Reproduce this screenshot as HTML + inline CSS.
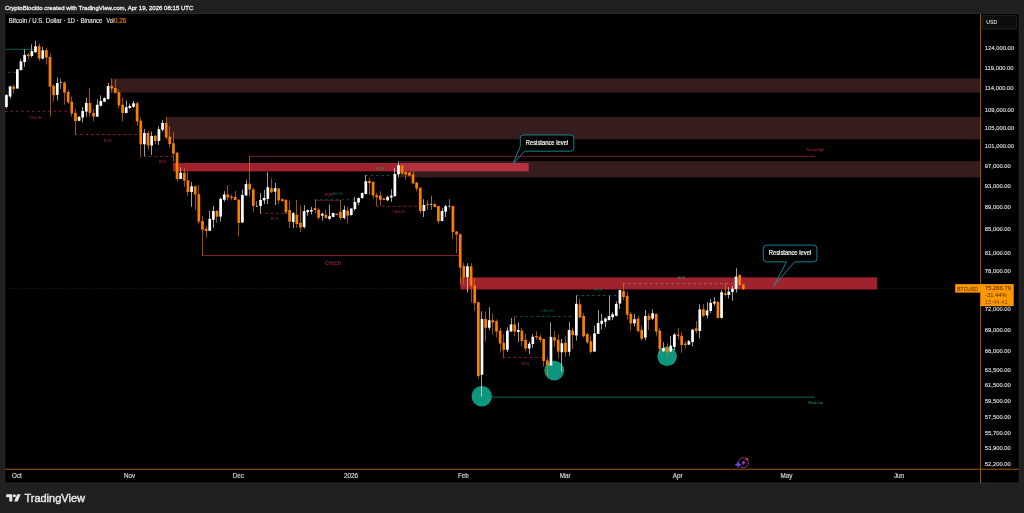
<!DOCTYPE html>
<html lang="en"><head><meta charset="utf-8"><title>BTCUSD chart</title>
<style>html,body{margin:0;padding:0;background:#202020;overflow:hidden}svg{display:block}text{font-family:"Liberation Sans",sans-serif}</style>
</head><body>
<svg width="1024" height="513" viewBox="0 0 1024 513">
<rect x="0" y="0" width="1024" height="513" fill="#202020"/>
<rect x="4.7" y="13.4" width="1014.6" height="469.6" rx="1.2" fill="#000" stroke="#2b2b2b" stroke-width="1"/>
<text x="4.9" y="10" font-size="6.1" fill="#ececec" stroke="#ececec" stroke-width="0.3" textLength="188.5" lengthAdjust="spacingAndGlyphs">CryptoBlockto created with TradingView.com, Apr 19, 2026 08:15 UTC</text>
<g>
<rect x="111" y="78.5" width="869" height="14" fill="#371c1e"/>
<rect x="166.2" y="117" width="813.8" height="22.3" fill="#371c1e"/>
<rect x="399.8" y="161.2" width="580.2" height="16.2" fill="#371c1e"/>
<rect x="173.1" y="163" width="226.7" height="8.4" fill="#a0222d"/>
<rect x="399.8" y="163" width="128.9" height="8.4" fill="#b3323e"/>
<rect x="460.4" y="277.4" width="416.8" height="12.1" fill="#a0222d"/>
</g>
<line x1="5" y1="288.4" x2="460" y2="288.4" stroke="#2c1b06" stroke-width="0.8" stroke-dasharray="1.2,1.2"/>
<line x1="877.2" y1="288.4" x2="955" y2="288.4" stroke="#2c1b06" stroke-width="0.8" stroke-dasharray="1.2,1.2"/>
<line x1="5.0" y1="49.3" x2="33.8" y2="49.3" stroke="#0b6f60" stroke-width="0.8"/>
<line x1="8.0" y1="72.3" x2="16.0" y2="72.3" stroke="#0b6f60" stroke-width="0.8" stroke-dasharray="2.4,3"/>
<line x1="5.0" y1="111.3" x2="69.0" y2="111.3" stroke="#b3263c" stroke-width="0.8" stroke-dasharray="2.4,3"/>
<text x="35.2" y="118.8" font-size="3.6" fill="#b3263c" text-anchor="middle">CHoCH</text>
<line x1="75.0" y1="134.5" x2="138.8" y2="134.5" stroke="#b3263c" stroke-width="0.8" stroke-dasharray="2.4,3"/>
<text x="107.9" y="141.7" font-size="3.6" fill="#b3263c" text-anchor="middle">BOS</text>
<line x1="143.8" y1="156.4" x2="173.8" y2="156.4" stroke="#b3263c" stroke-width="0.8" stroke-dasharray="2.4,3"/>
<text x="162.5" y="163.4" font-size="3.6" fill="#b3263c" text-anchor="middle">BOS</text>
<line x1="249.1" y1="156.3" x2="815.0" y2="156.3" stroke="#8f2230" stroke-width="0.8"/>
<text x="815.5" y="151.2" font-size="3.3" fill="#c8283c" text-anchor="middle">Strong High</text>
<line x1="202.2" y1="255.5" x2="459.2" y2="255.5" stroke="#8f2230" stroke-width="0.9"/>
<text x="333.2" y="264.6" font-size="4.6" fill="#c42a40" text-anchor="middle">CHoCH</text>
<line x1="259.8" y1="213.3" x2="288.0" y2="213.3" stroke="#b3263c" stroke-width="0.8" stroke-dasharray="2.4,3"/>
<text x="274.8" y="220.0" font-size="3.6" fill="#b3263c" text-anchor="middle">BOS</text>
<line x1="314.5" y1="200.5" x2="340.0" y2="200.5" stroke="#7a2030" stroke-width="0.6"/>
<line x1="314.5" y1="199.7" x2="354.1" y2="199.7" stroke="#0b6f60" stroke-width="0.8" stroke-dasharray="2.4,3"/>
<text x="336.5" y="194.8" font-size="3.6" fill="#0b6f60" text-anchor="middle">CHoCH</text>
<text x="328.7" y="196.0" font-size="3.6" fill="#b3263c" text-anchor="middle">EQH</text>
<line x1="365.4" y1="175.6" x2="390.4" y2="175.6" stroke="#0b6f60" stroke-width="0.8" stroke-dasharray="2.4,3"/>
<text x="380.0" y="170.4" font-size="3.6" fill="#3a8f88" text-anchor="middle">BOS</text>
<line x1="376.6" y1="206.3" x2="418.0" y2="206.3" stroke="#b3263c" stroke-width="0.8" stroke-dasharray="2.4,3"/>
<text x="398.3" y="212.8" font-size="3.6" fill="#b3263c" text-anchor="middle">CHoCH</text>
<line x1="514.9" y1="316.6" x2="572.4" y2="316.6" stroke="#0b6f60" stroke-width="0.8" stroke-dasharray="2.4,3"/>
<text x="547.4" y="311.5" font-size="3.6" fill="#0b6f60" text-anchor="middle">CHoCH</text>
<line x1="503.0" y1="357.5" x2="542.4" y2="357.5" stroke="#b3263c" stroke-width="0.8" stroke-dasharray="2.4,3"/>
<text x="525.5" y="364.5" font-size="3.6" fill="#b3263c" text-anchor="middle">BOS</text>
<line x1="576.1" y1="295.5" x2="617.4" y2="295.5" stroke="#0b6f60" stroke-width="0.8" stroke-dasharray="2.4,3"/>
<text x="598.0" y="290.5" font-size="3.6" fill="#0b6f60" text-anchor="middle">BOS</text>
<line x1="623.0" y1="283.6" x2="734.4" y2="283.6" stroke="#6f8c8b" stroke-width="0.8" stroke-dasharray="2.4,3"/>
<text x="681.2" y="278.5" font-size="3.6" fill="#3a8f88" text-anchor="middle">BOS</text>
<line x1="492.0" y1="397.2" x2="815.0" y2="397.2" stroke="#0b6f60" stroke-width="0.9"/>
<text x="815.6" y="403.9" font-size="3.3" fill="#12a08a" text-anchor="middle">Weak Low</text>
<circle cx="481.75" cy="396.20" r="10.2" fill="#0e977e"/>
<circle cx="554.25" cy="370.60" r="9.9" fill="#0e977e"/>
<circle cx="667.10" cy="356.20" r="9.8" fill="#0e977e"/>
<g shape-rendering="auto">
<rect x="6" y="94.00" width="1" height="14.50" fill="#e2e2e2" fill-opacity="0.7"/>
<rect x="5.10" y="95.00" width="2.70" height="12.00" fill="#ffffff"/>
<rect x="10" y="86.00" width="1" height="12.50" fill="#e2e2e2" fill-opacity="0.7"/>
<rect x="8.73" y="86.40" width="2.70" height="10.10" fill="#ffffff"/>
<rect x="13" y="84.50" width="1" height="8.80" fill="#e07200" fill-opacity="0.7"/>
<rect x="12.36" y="86.60" width="2.70" height="2.30" fill="#fa7f00"/>
<rect x="17" y="69.00" width="1" height="19.80" fill="#e2e2e2" fill-opacity="0.7"/>
<rect x="15.99" y="69.30" width="2.70" height="19.20" fill="#ffffff"/>
<rect x="20" y="59.30" width="1" height="11.20" fill="#e2e2e2" fill-opacity="0.7"/>
<rect x="19.62" y="61.40" width="2.70" height="8.70" fill="#ffffff"/>
<rect x="24" y="49.30" width="1" height="17.50" fill="#e2e2e2" fill-opacity="0.7"/>
<rect x="23.25" y="54.90" width="2.70" height="7.10" fill="#ffffff"/>
<rect x="28" y="53.00" width="1" height="6.50" fill="#e07200" fill-opacity="0.7"/>
<rect x="26.88" y="54.50" width="2.70" height="1.60" fill="#fa7f00"/>
<rect x="31" y="44.30" width="1" height="13.10" fill="#e2e2e2" fill-opacity="0.7"/>
<rect x="30.51" y="51.10" width="2.70" height="4.90" fill="#ffffff"/>
<rect x="35" y="40.80" width="1" height="11.80" fill="#e2e2e2" fill-opacity="0.7"/>
<rect x="34.14" y="46.40" width="2.70" height="5.90" fill="#ffffff"/>
<rect x="39" y="43.50" width="1" height="17.30" fill="#e07200" fill-opacity="0.7"/>
<rect x="37.77" y="46.10" width="2.70" height="12.50" fill="#fa7f00"/>
<rect x="42" y="47.00" width="1" height="12.30" fill="#e2e2e2" fill-opacity="0.7"/>
<rect x="41.40" y="50.40" width="2.70" height="8.20" fill="#ffffff"/>
<rect x="46" y="48.30" width="1" height="16.20" fill="#e07200" fill-opacity="0.7"/>
<rect x="45.03" y="50.10" width="2.70" height="7.50" fill="#fa7f00"/>
<rect x="50" y="53.50" width="1" height="63.10" fill="#e07200" fill-opacity="0.7"/>
<rect x="48.66" y="57.00" width="2.70" height="29.60" fill="#fa7f00"/>
<rect x="53" y="84.75" width="1" height="16.85" fill="#e07200" fill-opacity="0.7"/>
<rect x="52.29" y="85.80" width="2.70" height="9.30" fill="#fa7f00"/>
<rect x="57" y="77.30" width="1" height="23.10" fill="#e2e2e2" fill-opacity="0.7"/>
<rect x="55.92" y="83.00" width="2.70" height="11.90" fill="#ffffff"/>
<rect x="60" y="78.30" width="1" height="10.60" fill="#a0a0a0" fill-opacity="0.7"/>
<rect x="59.80" y="82.00" width="2.20" height="1.00" fill="#b8b8b8"/>
<rect x="64" y="81.40" width="1" height="23.35" fill="#e07200" fill-opacity="0.7"/>
<rect x="63.18" y="82.60" width="2.70" height="10.00" fill="#fa7f00"/>
<rect x="68" y="89.50" width="1" height="14.50" fill="#e07200" fill-opacity="0.7"/>
<rect x="66.81" y="92.00" width="2.70" height="10.25" fill="#fa7f00"/>
<rect x="71" y="96.60" width="1" height="20.00" fill="#e07200" fill-opacity="0.7"/>
<rect x="70.44" y="101.60" width="2.70" height="11.90" fill="#fa7f00"/>
<rect x="75" y="108.50" width="1" height="26.00" fill="#e07200" fill-opacity="0.7"/>
<rect x="74.07" y="112.90" width="2.70" height="8.10" fill="#fa7f00"/>
<rect x="79" y="116.00" width="1" height="5.00" fill="#e2e2e2" fill-opacity="0.7"/>
<rect x="77.70" y="117.00" width="2.70" height="3.75" fill="#ffffff"/>
<rect x="82" y="107.00" width="1" height="15.50" fill="#e2e2e2" fill-opacity="0.7"/>
<rect x="81.33" y="111.00" width="2.70" height="6.50" fill="#ffffff"/>
<rect x="86" y="97.90" width="1" height="18.70" fill="#e2e2e2" fill-opacity="0.7"/>
<rect x="84.96" y="102.90" width="2.70" height="8.70" fill="#ffffff"/>
<rect x="89" y="88.00" width="1" height="28.60" fill="#e07200" fill-opacity="0.7"/>
<rect x="88.59" y="102.90" width="2.70" height="10.00" fill="#fa7f00"/>
<rect x="93" y="109.00" width="1" height="12.00" fill="#e07200" fill-opacity="0.7"/>
<rect x="92.22" y="112.90" width="2.70" height="3.70" fill="#fa7f00"/>
<rect x="97" y="99.50" width="1" height="17.30" fill="#e2e2e2" fill-opacity="0.7"/>
<rect x="95.85" y="104.75" width="2.70" height="11.85" fill="#ffffff"/>
<rect x="100" y="95.50" width="1" height="11.10" fill="#e2e2e2" fill-opacity="0.7"/>
<rect x="99.48" y="101.00" width="2.70" height="4.75" fill="#ffffff"/>
<rect x="104" y="97.25" width="1" height="5.00" fill="#e2e2e2" fill-opacity="0.7"/>
<rect x="103.11" y="98.25" width="2.70" height="3.35" fill="#ffffff"/>
<rect x="108" y="83.00" width="1" height="16.40" fill="#e2e2e2" fill-opacity="0.7"/>
<rect x="106.74" y="86.00" width="2.70" height="13.10" fill="#ffffff"/>
<rect x="111" y="78.50" width="1" height="14.10" fill="#e07200" fill-opacity="0.7"/>
<rect x="110.37" y="85.80" width="2.70" height="2.70" fill="#fa7f00"/>
<rect x="115" y="79.25" width="1" height="14.00" fill="#e07200" fill-opacity="0.7"/>
<rect x="114.00" y="88.00" width="2.70" height="4.90" fill="#fa7f00"/>
<rect x="118" y="89.50" width="1" height="19.00" fill="#e07200" fill-opacity="0.7"/>
<rect x="117.63" y="92.25" width="2.70" height="13.15" fill="#fa7f00"/>
<rect x="122" y="97.60" width="1" height="23.90" fill="#e07200" fill-opacity="0.7"/>
<rect x="121.26" y="104.75" width="2.70" height="8.25" fill="#fa7f00"/>
<rect x="126" y="100.50" width="1" height="12.70" fill="#e2e2e2" fill-opacity="0.7"/>
<rect x="124.89" y="107.20" width="2.70" height="5.80" fill="#ffffff"/>
<rect x="129" y="103.50" width="1" height="5.40" fill="#e2e2e2" fill-opacity="0.7"/>
<rect x="128.52" y="106.00" width="2.70" height="2.00" fill="#ffffff"/>
<rect x="133" y="101.00" width="1" height="7.00" fill="#e2e2e2" fill-opacity="0.7"/>
<rect x="132.15" y="103.25" width="2.70" height="3.50" fill="#ffffff"/>
<rect x="137" y="102.00" width="1" height="23.75" fill="#e07200" fill-opacity="0.7"/>
<rect x="135.78" y="103.25" width="2.70" height="18.15" fill="#fa7f00"/>
<rect x="140" y="117.60" width="1" height="39.80" fill="#e07200" fill-opacity="0.7"/>
<rect x="139.41" y="120.75" width="2.70" height="23.50" fill="#fa7f00"/>
<rect x="144" y="129.25" width="1" height="26.85" fill="#e2e2e2" fill-opacity="0.7"/>
<rect x="143.04" y="133.00" width="2.70" height="11.25" fill="#ffffff"/>
<rect x="148" y="131.00" width="1" height="19.00" fill="#e07200" fill-opacity="0.7"/>
<rect x="146.67" y="133.00" width="2.70" height="12.50" fill="#fa7f00"/>
<rect x="151" y="131.75" width="1" height="23.15" fill="#e2e2e2" fill-opacity="0.7"/>
<rect x="150.30" y="136.00" width="2.70" height="9.50" fill="#ffffff"/>
<rect x="155" y="135.25" width="1" height="9.00" fill="#e07200" fill-opacity="0.7"/>
<rect x="153.93" y="135.75" width="2.70" height="5.25" fill="#fa7f00"/>
<rect x="158" y="126.40" width="1" height="18.50" fill="#e2e2e2" fill-opacity="0.7"/>
<rect x="157.56" y="129.25" width="2.70" height="11.65" fill="#ffffff"/>
<rect x="162" y="120.00" width="1" height="11.40" fill="#e2e2e2" fill-opacity="0.7"/>
<rect x="161.19" y="123.00" width="2.70" height="6.75" fill="#ffffff"/>
<rect x="166" y="117.00" width="1" height="22.25" fill="#e07200" fill-opacity="0.7"/>
<rect x="164.82" y="123.00" width="2.70" height="14.40" fill="#fa7f00"/>
<rect x="169" y="126.00" width="1" height="21.40" fill="#e07200" fill-opacity="0.7"/>
<rect x="168.45" y="136.75" width="2.70" height="7.25" fill="#fa7f00"/>
<rect x="173" y="131.75" width="1" height="30.00" fill="#e07200" fill-opacity="0.7"/>
<rect x="172.08" y="143.25" width="2.70" height="10.35" fill="#fa7f00"/>
<rect x="177" y="151.75" width="1" height="29.75" fill="#e07200" fill-opacity="0.7"/>
<rect x="175.71" y="152.75" width="2.70" height="26.25" fill="#fa7f00"/>
<rect x="180" y="167.40" width="1" height="11.85" fill="#e2e2e2" fill-opacity="0.7"/>
<rect x="179.34" y="172.75" width="2.70" height="6.15" fill="#ffffff"/>
<rect x="184" y="168.00" width="1" height="18.70" fill="#e07200" fill-opacity="0.7"/>
<rect x="182.97" y="172.75" width="2.70" height="8.00" fill="#fa7f00"/>
<rect x="187" y="171.50" width="1" height="24.25" fill="#e07200" fill-opacity="0.7"/>
<rect x="186.60" y="180.30" width="2.70" height="11.70" fill="#fa7f00"/>
<rect x="191" y="182.00" width="1" height="24.60" fill="#e2e2e2" fill-opacity="0.7"/>
<rect x="190.23" y="186.30" width="2.70" height="5.70" fill="#ffffff"/>
<rect x="195" y="185.50" width="1" height="24.25" fill="#e07200" fill-opacity="0.7"/>
<rect x="193.86" y="186.30" width="2.70" height="8.20" fill="#fa7f00"/>
<rect x="198" y="185.40" width="1" height="38.10" fill="#e07200" fill-opacity="0.7"/>
<rect x="197.49" y="194.10" width="2.70" height="27.50" fill="#fa7f00"/>
<rect x="202" y="216.00" width="1" height="39.75" fill="#e07200" fill-opacity="0.7"/>
<rect x="201.12" y="221.00" width="2.70" height="8.75" fill="#fa7f00"/>
<rect x="206" y="226.00" width="1" height="11.50" fill="#e07200" fill-opacity="0.7"/>
<rect x="204.75" y="228.75" width="2.70" height="2.25" fill="#fa7f00"/>
<rect x="209" y="211.00" width="1" height="20.00" fill="#e2e2e2" fill-opacity="0.7"/>
<rect x="208.38" y="218.75" width="2.70" height="12.00" fill="#ffffff"/>
<rect x="213" y="206.00" width="1" height="21.90" fill="#e2e2e2" fill-opacity="0.7"/>
<rect x="212.01" y="211.00" width="2.70" height="8.75" fill="#ffffff"/>
<rect x="216" y="210.00" width="1" height="12.90" fill="#e07200" fill-opacity="0.7"/>
<rect x="215.64" y="211.00" width="2.70" height="5.60" fill="#fa7f00"/>
<rect x="220" y="197.90" width="1" height="23.70" fill="#e2e2e2" fill-opacity="0.7"/>
<rect x="219.27" y="198.90" width="2.70" height="17.70" fill="#ffffff"/>
<rect x="224" y="191.25" width="1" height="10.35" fill="#e2e2e2" fill-opacity="0.7"/>
<rect x="222.90" y="194.50" width="2.70" height="5.25" fill="#ffffff"/>
<rect x="227" y="185.40" width="1" height="15.00" fill="#e07200" fill-opacity="0.7"/>
<rect x="226.53" y="194.50" width="2.70" height="3.00" fill="#fa7f00"/>
<rect x="231" y="194.75" width="1" height="5.65" fill="#e07200" fill-opacity="0.7"/>
<rect x="230.16" y="196.60" width="2.70" height="1.30" fill="#fa7f00"/>
<rect x="235" y="191.00" width="1" height="9.40" fill="#e07200" fill-opacity="0.7"/>
<rect x="233.79" y="197.00" width="2.70" height="3.00" fill="#fa7f00"/>
<rect x="238" y="199.00" width="1" height="37.60" fill="#e07200" fill-opacity="0.7"/>
<rect x="237.42" y="199.75" width="2.70" height="23.15" fill="#fa7f00"/>
<rect x="242" y="189.50" width="1" height="33.40" fill="#e2e2e2" fill-opacity="0.7"/>
<rect x="241.05" y="195.00" width="2.70" height="27.50" fill="#ffffff"/>
<rect x="246" y="179.75" width="1" height="16.25" fill="#e2e2e2" fill-opacity="0.7"/>
<rect x="244.68" y="184.10" width="2.70" height="11.30" fill="#ffffff"/>
<rect x="249" y="156.25" width="1" height="40.35" fill="#e07200" fill-opacity="0.7"/>
<rect x="248.31" y="183.75" width="2.70" height="5.75" fill="#fa7f00"/>
<rect x="253" y="187.90" width="1" height="23.70" fill="#e07200" fill-opacity="0.7"/>
<rect x="251.94" y="189.50" width="2.70" height="16.50" fill="#fa7f00"/>
<rect x="256" y="201.00" width="1" height="5.60" fill="#a0a0a0" fill-opacity="0.7"/>
<rect x="255.82" y="205.80" width="2.20" height="1.00" fill="#b8b8b8"/>
<rect x="260" y="193.25" width="1" height="20.00" fill="#e2e2e2" fill-opacity="0.7"/>
<rect x="259.20" y="200.00" width="2.70" height="6.00" fill="#ffffff"/>
<rect x="264" y="190.00" width="1" height="14.10" fill="#e2e2e2" fill-opacity="0.7"/>
<rect x="262.83" y="197.90" width="2.70" height="2.50" fill="#ffffff"/>
<rect x="267" y="172.10" width="1" height="32.00" fill="#e2e2e2" fill-opacity="0.7"/>
<rect x="266.46" y="187.25" width="2.70" height="11.65" fill="#ffffff"/>
<rect x="271" y="178.40" width="1" height="14.50" fill="#e07200" fill-opacity="0.7"/>
<rect x="270.09" y="188.25" width="2.70" height="4.00" fill="#fa7f00"/>
<rect x="275" y="182.90" width="1" height="22.10" fill="#e2e2e2" fill-opacity="0.7"/>
<rect x="273.72" y="188.25" width="2.70" height="3.35" fill="#ffffff"/>
<rect x="278" y="187.90" width="1" height="16.20" fill="#e07200" fill-opacity="0.7"/>
<rect x="277.35" y="188.50" width="2.70" height="11.90" fill="#fa7f00"/>
<rect x="282" y="198.50" width="1" height="3.10" fill="#e07200" fill-opacity="0.7"/>
<rect x="280.98" y="199.10" width="2.70" height="1.90" fill="#fa7f00"/>
<rect x="285" y="199.10" width="1" height="14.65" fill="#e07200" fill-opacity="0.7"/>
<rect x="284.61" y="200.00" width="2.70" height="12.25" fill="#fa7f00"/>
<rect x="289" y="201.00" width="1" height="26.90" fill="#e07200" fill-opacity="0.7"/>
<rect x="288.24" y="210.00" width="2.70" height="11.60" fill="#fa7f00"/>
<rect x="293" y="212.00" width="1" height="15.90" fill="#e2e2e2" fill-opacity="0.7"/>
<rect x="291.87" y="213.25" width="2.70" height="8.75" fill="#ffffff"/>
<rect x="296" y="199.75" width="1" height="27.95" fill="#e07200" fill-opacity="0.7"/>
<rect x="295.50" y="214.75" width="2.70" height="9.25" fill="#fa7f00"/>
<rect x="300" y="205.80" width="1" height="26.20" fill="#e07200" fill-opacity="0.7"/>
<rect x="299.13" y="222.80" width="2.70" height="4.70" fill="#fa7f00"/>
<rect x="304" y="205.30" width="1" height="23.20" fill="#e2e2e2" fill-opacity="0.7"/>
<rect x="302.76" y="211.20" width="2.70" height="15.80" fill="#ffffff"/>
<rect x="307" y="209.40" width="1" height="6.20" fill="#e2e2e2" fill-opacity="0.7"/>
<rect x="306.39" y="210.25" width="2.70" height="2.00" fill="#ffffff"/>
<rect x="311" y="206.90" width="1" height="7.50" fill="#e2e2e2" fill-opacity="0.7"/>
<rect x="310.02" y="210.00" width="2.70" height="1.50" fill="#ffffff"/>
<rect x="315" y="199.75" width="1" height="13.25" fill="#e07200" fill-opacity="0.7"/>
<rect x="313.65" y="208.00" width="2.70" height="2.00" fill="#fa7f00"/>
<rect x="318" y="207.75" width="1" height="12.00" fill="#e07200" fill-opacity="0.7"/>
<rect x="317.28" y="209.75" width="2.70" height="8.00" fill="#fa7f00"/>
<rect x="322" y="212.50" width="1" height="8.10" fill="#e2e2e2" fill-opacity="0.7"/>
<rect x="320.91" y="213.75" width="2.70" height="1.85" fill="#ffffff"/>
<rect x="325" y="209.75" width="1" height="8.75" fill="#e07200" fill-opacity="0.7"/>
<rect x="324.54" y="214.75" width="2.70" height="3.25" fill="#fa7f00"/>
<rect x="329" y="204.75" width="1" height="15.25" fill="#e2e2e2" fill-opacity="0.7"/>
<rect x="328.17" y="216.25" width="2.70" height="2.50" fill="#ffffff"/>
<rect x="333" y="212.75" width="1" height="4.50" fill="#e2e2e2" fill-opacity="0.7"/>
<rect x="331.80" y="213.00" width="2.70" height="3.90" fill="#ffffff"/>
<rect x="336" y="213.50" width="1" height="1.75" fill="#e07200" fill-opacity="0.7"/>
<rect x="335.43" y="213.75" width="2.70" height="1.25" fill="#fa7f00"/>
<rect x="340" y="200.00" width="1" height="20.00" fill="#e07200" fill-opacity="0.7"/>
<rect x="339.06" y="211.90" width="2.70" height="6.10" fill="#fa7f00"/>
<rect x="344" y="205.60" width="1" height="13.80" fill="#e2e2e2" fill-opacity="0.7"/>
<rect x="342.69" y="209.75" width="2.70" height="8.25" fill="#ffffff"/>
<rect x="347" y="206.90" width="1" height="16.60" fill="#e07200" fill-opacity="0.7"/>
<rect x="346.32" y="210.60" width="2.70" height="5.00" fill="#fa7f00"/>
<rect x="351" y="208.10" width="1" height="7.50" fill="#e2e2e2" fill-opacity="0.7"/>
<rect x="349.95" y="208.50" width="2.70" height="6.50" fill="#ffffff"/>
<rect x="354" y="196.90" width="1" height="13.70" fill="#e2e2e2" fill-opacity="0.7"/>
<rect x="353.58" y="201.90" width="2.70" height="7.10" fill="#ffffff"/>
<rect x="358" y="197.50" width="1" height="7.50" fill="#e2e2e2" fill-opacity="0.7"/>
<rect x="357.21" y="198.10" width="2.70" height="4.40" fill="#ffffff"/>
<rect x="362" y="192.25" width="1" height="6.25" fill="#e2e2e2" fill-opacity="0.7"/>
<rect x="360.84" y="193.10" width="2.70" height="5.00" fill="#ffffff"/>
<rect x="365" y="175.00" width="1" height="19.40" fill="#e2e2e2" fill-opacity="0.7"/>
<rect x="364.47" y="181.25" width="2.70" height="12.75" fill="#ffffff"/>
<rect x="369" y="177.75" width="1" height="17.25" fill="#e07200" fill-opacity="0.7"/>
<rect x="368.10" y="181.00" width="2.70" height="2.10" fill="#fa7f00"/>
<rect x="373" y="181.25" width="1" height="17.50" fill="#e07200" fill-opacity="0.7"/>
<rect x="371.73" y="181.90" width="2.70" height="13.70" fill="#fa7f00"/>
<rect x="376" y="193.10" width="1" height="13.15" fill="#e07200" fill-opacity="0.7"/>
<rect x="375.36" y="195.25" width="2.70" height="2.00" fill="#fa7f00"/>
<rect x="380" y="191.25" width="1" height="14.35" fill="#e07200" fill-opacity="0.7"/>
<rect x="378.99" y="195.60" width="2.70" height="4.15" fill="#fa7f00"/>
<rect x="383" y="198.10" width="1" height="2.15" fill="#e07200" fill-opacity="0.7"/>
<rect x="382.62" y="198.50" width="2.70" height="1.50" fill="#fa7f00"/>
<rect x="387" y="195.60" width="1" height="5.40" fill="#e2e2e2" fill-opacity="0.7"/>
<rect x="386.25" y="196.90" width="2.70" height="3.35" fill="#ffffff"/>
<rect x="391" y="189.40" width="1" height="12.50" fill="#e2e2e2" fill-opacity="0.7"/>
<rect x="389.88" y="195.60" width="2.70" height="1.90" fill="#ffffff"/>
<rect x="394" y="168.10" width="1" height="28.40" fill="#e2e2e2" fill-opacity="0.7"/>
<rect x="393.51" y="174.00" width="2.70" height="22.25" fill="#ffffff"/>
<rect x="398" y="161.25" width="1" height="16.25" fill="#e2e2e2" fill-opacity="0.7"/>
<rect x="397.14" y="165.25" width="2.70" height="9.15" fill="#ffffff"/>
<rect x="402" y="165.00" width="1" height="9.75" fill="#e07200" fill-opacity="0.7"/>
<rect x="400.77" y="165.60" width="2.70" height="7.90" fill="#fa7f00"/>
<rect x="405" y="171.25" width="1" height="8.50" fill="#e07200" fill-opacity="0.7"/>
<rect x="404.40" y="171.90" width="2.70" height="2.50" fill="#fa7f00"/>
<rect x="409" y="171.90" width="1" height="4.10" fill="#e07200" fill-opacity="0.7"/>
<rect x="408.03" y="172.50" width="2.70" height="3.10" fill="#fa7f00"/>
<rect x="413" y="171.00" width="1" height="12.75" fill="#e07200" fill-opacity="0.7"/>
<rect x="411.66" y="174.40" width="2.70" height="9.10" fill="#fa7f00"/>
<rect x="416" y="181.90" width="1" height="9.60" fill="#e07200" fill-opacity="0.7"/>
<rect x="415.29" y="182.50" width="2.70" height="6.10" fill="#fa7f00"/>
<rect x="420" y="186.90" width="1" height="26.70" fill="#e07200" fill-opacity="0.7"/>
<rect x="418.92" y="187.80" width="2.70" height="23.20" fill="#fa7f00"/>
<rect x="423" y="199.20" width="1" height="17.80" fill="#e2e2e2" fill-opacity="0.7"/>
<rect x="422.55" y="205.00" width="2.70" height="6.00" fill="#ffffff"/>
<rect x="427" y="200.40" width="1" height="9.35" fill="#e07200" fill-opacity="0.7"/>
<rect x="426.18" y="204.10" width="2.70" height="1.00" fill="#fa7f00"/>
<rect x="431" y="195.75" width="1" height="14.25" fill="#a0a0a0" fill-opacity="0.7"/>
<rect x="430.06" y="204.10" width="2.20" height="1.00" fill="#b8b8b8"/>
<rect x="434" y="202.90" width="1" height="4.35" fill="#e07200" fill-opacity="0.7"/>
<rect x="433.44" y="204.10" width="2.70" height="2.90" fill="#fa7f00"/>
<rect x="438" y="205.75" width="1" height="18.00" fill="#e07200" fill-opacity="0.7"/>
<rect x="437.07" y="206.00" width="2.70" height="15.25" fill="#fa7f00"/>
<rect x="442" y="208.25" width="1" height="13.00" fill="#e2e2e2" fill-opacity="0.7"/>
<rect x="440.70" y="211.00" width="2.70" height="10.00" fill="#ffffff"/>
<rect x="445" y="205.00" width="1" height="12.00" fill="#e2e2e2" fill-opacity="0.7"/>
<rect x="444.33" y="206.25" width="2.70" height="5.35" fill="#ffffff"/>
<rect x="449" y="199.10" width="1" height="10.00" fill="#a0a0a0" fill-opacity="0.7"/>
<rect x="448.21" y="205.75" width="2.20" height="1.00" fill="#b8b8b8"/>
<rect x="452" y="205.75" width="1" height="33.25" fill="#e07200" fill-opacity="0.7"/>
<rect x="451.59" y="206.00" width="2.70" height="26.00" fill="#fa7f00"/>
<rect x="456" y="231.00" width="1" height="22.25" fill="#e07200" fill-opacity="0.7"/>
<rect x="455.22" y="231.60" width="2.70" height="2.90" fill="#fa7f00"/>
<rect x="460" y="233.50" width="1" height="51.00" fill="#e07200" fill-opacity="0.7"/>
<rect x="458.85" y="234.20" width="2.70" height="33.40" fill="#fa7f00"/>
<rect x="463" y="262.60" width="1" height="21.90" fill="#e07200" fill-opacity="0.7"/>
<rect x="462.48" y="266.00" width="2.70" height="11.60" fill="#fa7f00"/>
<rect x="467" y="263.25" width="1" height="29.25" fill="#e2e2e2" fill-opacity="0.7"/>
<rect x="466.11" y="266.40" width="2.70" height="10.85" fill="#ffffff"/>
<rect x="471" y="263.25" width="1" height="39.25" fill="#e07200" fill-opacity="0.7"/>
<rect x="469.74" y="266.40" width="2.70" height="19.30" fill="#fa7f00"/>
<rect x="474" y="278.25" width="1" height="32.35" fill="#e07200" fill-opacity="0.7"/>
<rect x="473.37" y="285.50" width="2.70" height="17.60" fill="#fa7f00"/>
<rect x="478" y="301.50" width="1" height="77.50" fill="#e07200" fill-opacity="0.7"/>
<rect x="477.00" y="302.25" width="2.70" height="73.75" fill="#fa7f00"/>
<rect x="481" y="311.25" width="1" height="85.35" fill="#e2e2e2" fill-opacity="0.7"/>
<rect x="480.63" y="319.00" width="2.70" height="55.75" fill="#ffffff"/>
<rect x="485" y="311.50" width="1" height="30.00" fill="#e07200" fill-opacity="0.7"/>
<rect x="484.26" y="319.00" width="2.70" height="8.75" fill="#fa7f00"/>
<rect x="489" y="307.25" width="1" height="23.00" fill="#e2e2e2" fill-opacity="0.7"/>
<rect x="487.89" y="320.25" width="2.70" height="7.50" fill="#ffffff"/>
<rect x="492" y="313.50" width="1" height="20.90" fill="#e07200" fill-opacity="0.7"/>
<rect x="491.52" y="320.25" width="2.70" height="2.25" fill="#fa7f00"/>
<rect x="496" y="319.40" width="1" height="18.10" fill="#e07200" fill-opacity="0.7"/>
<rect x="495.15" y="321.25" width="2.70" height="10.25" fill="#fa7f00"/>
<rect x="500" y="328.00" width="1" height="24.25" fill="#e07200" fill-opacity="0.7"/>
<rect x="498.78" y="330.60" width="2.70" height="12.90" fill="#fa7f00"/>
<rect x="503" y="334.40" width="1" height="22.85" fill="#e07200" fill-opacity="0.7"/>
<rect x="502.41" y="342.70" width="2.70" height="7.05" fill="#fa7f00"/>
<rect x="507" y="327.25" width="1" height="24.75" fill="#e2e2e2" fill-opacity="0.7"/>
<rect x="506.04" y="330.60" width="2.70" height="19.15" fill="#ffffff"/>
<rect x="511" y="318.10" width="1" height="13.80" fill="#e2e2e2" fill-opacity="0.7"/>
<rect x="509.67" y="324.40" width="2.70" height="7.10" fill="#ffffff"/>
<rect x="514" y="316.90" width="1" height="19.35" fill="#e07200" fill-opacity="0.7"/>
<rect x="513.30" y="324.40" width="2.70" height="7.10" fill="#fa7f00"/>
<rect x="518" y="322.25" width="1" height="19.55" fill="#e2e2e2" fill-opacity="0.7"/>
<rect x="516.93" y="330.00" width="2.70" height="1.90" fill="#ffffff"/>
<rect x="521" y="328.00" width="1" height="18.00" fill="#e07200" fill-opacity="0.7"/>
<rect x="520.56" y="330.60" width="2.70" height="10.50" fill="#fa7f00"/>
<rect x="525" y="333.75" width="1" height="17.85" fill="#e07200" fill-opacity="0.7"/>
<rect x="524.19" y="339.90" width="2.70" height="8.60" fill="#fa7f00"/>
<rect x="529" y="341.60" width="1" height="12.40" fill="#e2e2e2" fill-opacity="0.7"/>
<rect x="527.82" y="343.75" width="2.70" height="4.75" fill="#ffffff"/>
<rect x="532" y="334.40" width="1" height="13.50" fill="#e2e2e2" fill-opacity="0.7"/>
<rect x="531.45" y="336.80" width="2.70" height="7.20" fill="#ffffff"/>
<rect x="536" y="331.25" width="1" height="8.50" fill="#e07200" fill-opacity="0.7"/>
<rect x="535.08" y="336.00" width="2.70" height="1.25" fill="#fa7f00"/>
<rect x="540" y="334.75" width="1" height="7.65" fill="#e07200" fill-opacity="0.7"/>
<rect x="538.71" y="336.80" width="2.70" height="3.20" fill="#fa7f00"/>
<rect x="543" y="338.50" width="1" height="28.10" fill="#e07200" fill-opacity="0.7"/>
<rect x="542.34" y="339.00" width="2.70" height="22.00" fill="#fa7f00"/>
<rect x="547" y="357.25" width="1" height="19.35" fill="#e07200" fill-opacity="0.7"/>
<rect x="545.97" y="360.40" width="2.70" height="5.00" fill="#fa7f00"/>
<rect x="550" y="322.50" width="1" height="43.25" fill="#e2e2e2" fill-opacity="0.7"/>
<rect x="549.60" y="336.90" width="2.70" height="28.50" fill="#ffffff"/>
<rect x="554" y="331.25" width="1" height="15.35" fill="#e07200" fill-opacity="0.7"/>
<rect x="553.23" y="337.25" width="2.70" height="3.25" fill="#fa7f00"/>
<rect x="558" y="334.40" width="1" height="24.10" fill="#e07200" fill-opacity="0.7"/>
<rect x="556.86" y="339.75" width="2.70" height="11.85" fill="#fa7f00"/>
<rect x="561" y="339.00" width="1" height="32.60" fill="#e2e2e2" fill-opacity="0.7"/>
<rect x="560.49" y="343.25" width="2.70" height="9.00" fill="#ffffff"/>
<rect x="565" y="335.60" width="1" height="21.00" fill="#e07200" fill-opacity="0.7"/>
<rect x="564.12" y="342.70" width="2.70" height="9.55" fill="#fa7f00"/>
<rect x="569" y="322.10" width="1" height="33.70" fill="#e2e2e2" fill-opacity="0.7"/>
<rect x="567.75" y="330.00" width="2.70" height="21.80" fill="#ffffff"/>
<rect x="572" y="328.00" width="1" height="21.00" fill="#e07200" fill-opacity="0.7"/>
<rect x="571.38" y="330.60" width="2.70" height="4.40" fill="#fa7f00"/>
<rect x="576" y="295.50" width="1" height="45.10" fill="#e2e2e2" fill-opacity="0.7"/>
<rect x="575.01" y="303.80" width="2.70" height="31.60" fill="#ffffff"/>
<rect x="579" y="298.90" width="1" height="19.10" fill="#e07200" fill-opacity="0.7"/>
<rect x="578.64" y="304.25" width="2.70" height="13.35" fill="#fa7f00"/>
<rect x="583" y="313.25" width="1" height="24.25" fill="#e07200" fill-opacity="0.7"/>
<rect x="582.27" y="316.00" width="2.70" height="20.25" fill="#fa7f00"/>
<rect x="587" y="333.10" width="1" height="10.65" fill="#e07200" fill-opacity="0.7"/>
<rect x="585.90" y="334.00" width="2.70" height="8.25" fill="#fa7f00"/>
<rect x="590" y="335.60" width="1" height="17.90" fill="#e07200" fill-opacity="0.7"/>
<rect x="589.53" y="341.25" width="2.70" height="10.65" fill="#fa7f00"/>
<rect x="594" y="326.00" width="1" height="25.90" fill="#e2e2e2" fill-opacity="0.7"/>
<rect x="593.16" y="333.40" width="2.70" height="18.10" fill="#ffffff"/>
<rect x="598" y="310.10" width="1" height="23.90" fill="#e2e2e2" fill-opacity="0.7"/>
<rect x="596.79" y="323.00" width="2.70" height="10.80" fill="#ffffff"/>
<rect x="601" y="313.90" width="1" height="15.50" fill="#e2e2e2" fill-opacity="0.7"/>
<rect x="600.42" y="320.75" width="2.70" height="3.15" fill="#ffffff"/>
<rect x="605" y="317.60" width="1" height="9.60" fill="#e2e2e2" fill-opacity="0.7"/>
<rect x="604.05" y="318.50" width="2.70" height="3.25" fill="#ffffff"/>
<rect x="609" y="296.00" width="1" height="24.50" fill="#e2e2e2" fill-opacity="0.7"/>
<rect x="607.68" y="316.00" width="2.70" height="4.10" fill="#ffffff"/>
<rect x="612" y="312.25" width="1" height="7.85" fill="#e2e2e2" fill-opacity="0.7"/>
<rect x="611.31" y="314.25" width="2.70" height="3.00" fill="#ffffff"/>
<rect x="616" y="301.40" width="1" height="15.00" fill="#e2e2e2" fill-opacity="0.7"/>
<rect x="614.94" y="303.90" width="2.70" height="11.85" fill="#ffffff"/>
<rect x="619" y="289.75" width="1" height="19.15" fill="#e2e2e2" fill-opacity="0.7"/>
<rect x="618.57" y="290.10" width="2.70" height="13.40" fill="#ffffff"/>
<rect x="623" y="283.00" width="1" height="17.10" fill="#e07200" fill-opacity="0.7"/>
<rect x="622.20" y="291.00" width="2.70" height="6.00" fill="#fa7f00"/>
<rect x="627" y="291.75" width="1" height="27.75" fill="#e07200" fill-opacity="0.7"/>
<rect x="625.83" y="295.75" width="2.70" height="19.00" fill="#fa7f00"/>
<rect x="630" y="312.00" width="1" height="18.80" fill="#e07200" fill-opacity="0.7"/>
<rect x="629.46" y="313.90" width="2.70" height="9.60" fill="#fa7f00"/>
<rect x="634" y="313.90" width="1" height="12.40" fill="#e2e2e2" fill-opacity="0.7"/>
<rect x="633.09" y="319.25" width="2.70" height="4.05" fill="#ffffff"/>
<rect x="638" y="316.00" width="1" height="16.50" fill="#e07200" fill-opacity="0.7"/>
<rect x="636.72" y="318.50" width="2.70" height="12.50" fill="#fa7f00"/>
<rect x="641" y="325.50" width="1" height="15.10" fill="#e07200" fill-opacity="0.7"/>
<rect x="640.35" y="329.90" width="2.70" height="8.85" fill="#fa7f00"/>
<rect x="645" y="310.10" width="1" height="30.15" fill="#e2e2e2" fill-opacity="0.7"/>
<rect x="643.98" y="316.00" width="2.70" height="21.50" fill="#ffffff"/>
<rect x="648" y="313.25" width="1" height="16.75" fill="#e07200" fill-opacity="0.7"/>
<rect x="647.61" y="315.75" width="2.70" height="4.00" fill="#fa7f00"/>
<rect x="652" y="309.25" width="1" height="10.85" fill="#e2e2e2" fill-opacity="0.7"/>
<rect x="651.24" y="313.25" width="2.70" height="5.25" fill="#ffffff"/>
<rect x="656" y="313.50" width="1" height="22.20" fill="#e07200" fill-opacity="0.7"/>
<rect x="654.87" y="313.90" width="2.70" height="17.60" fill="#fa7f00"/>
<rect x="659" y="328.20" width="1" height="25.30" fill="#e07200" fill-opacity="0.7"/>
<rect x="658.50" y="330.50" width="2.70" height="18.50" fill="#fa7f00"/>
<rect x="663" y="342.25" width="1" height="9.65" fill="#e2e2e2" fill-opacity="0.7"/>
<rect x="662.13" y="348.10" width="2.70" height="3.15" fill="#ffffff"/>
<rect x="667" y="343.10" width="1" height="14.40" fill="#e07200" fill-opacity="0.7"/>
<rect x="665.76" y="347.75" width="2.70" height="4.15" fill="#fa7f00"/>
<rect x="670" y="336.00" width="1" height="15.90" fill="#e2e2e2" fill-opacity="0.7"/>
<rect x="669.39" y="345.60" width="2.70" height="5.90" fill="#ffffff"/>
<rect x="674" y="333.10" width="1" height="16.90" fill="#e2e2e2" fill-opacity="0.7"/>
<rect x="673.02" y="334.50" width="2.70" height="12.40" fill="#ffffff"/>
<rect x="678" y="328.20" width="1" height="11.20" fill="#e07200" fill-opacity="0.7"/>
<rect x="676.65" y="334.75" width="2.70" height="1.25" fill="#fa7f00"/>
<rect x="681" y="332.00" width="1" height="20.80" fill="#e07200" fill-opacity="0.7"/>
<rect x="680.28" y="335.80" width="2.70" height="9.20" fill="#fa7f00"/>
<rect x="685" y="341.40" width="1" height="7.00" fill="#e07200" fill-opacity="0.7"/>
<rect x="683.91" y="343.60" width="2.70" height="1.40" fill="#fa7f00"/>
<rect x="688" y="340.00" width="1" height="4.90" fill="#e2e2e2" fill-opacity="0.7"/>
<rect x="687.54" y="341.25" width="2.70" height="3.35" fill="#ffffff"/>
<rect x="692" y="328.75" width="1" height="17.65" fill="#e2e2e2" fill-opacity="0.7"/>
<rect x="691.17" y="329.70" width="2.70" height="12.30" fill="#ffffff"/>
<rect x="696" y="321.00" width="1" height="12.50" fill="#e07200" fill-opacity="0.7"/>
<rect x="694.80" y="328.25" width="2.70" height="2.75" fill="#fa7f00"/>
<rect x="699" y="304.30" width="1" height="34.20" fill="#e2e2e2" fill-opacity="0.7"/>
<rect x="698.43" y="309.50" width="2.70" height="21.50" fill="#ffffff"/>
<rect x="703" y="304.10" width="1" height="13.15" fill="#e07200" fill-opacity="0.7"/>
<rect x="702.06" y="309.30" width="2.70" height="6.45" fill="#fa7f00"/>
<rect x="707" y="302.00" width="1" height="16.50" fill="#e2e2e2" fill-opacity="0.7"/>
<rect x="705.69" y="310.40" width="2.70" height="5.00" fill="#ffffff"/>
<rect x="710" y="299.10" width="1" height="13.80" fill="#e2e2e2" fill-opacity="0.7"/>
<rect x="709.32" y="302.90" width="2.70" height="8.10" fill="#ffffff"/>
<rect x="714" y="297.25" width="1" height="8.15" fill="#e2e2e2" fill-opacity="0.7"/>
<rect x="712.95" y="301.80" width="2.70" height="1.70" fill="#ffffff"/>
<rect x="717" y="301.50" width="1" height="17.10" fill="#e07200" fill-opacity="0.7"/>
<rect x="716.58" y="301.80" width="2.70" height="16.20" fill="#fa7f00"/>
<rect x="721" y="290.00" width="1" height="28.40" fill="#e2e2e2" fill-opacity="0.7"/>
<rect x="720.21" y="292.25" width="2.70" height="25.65" fill="#ffffff"/>
<rect x="725" y="282.90" width="1" height="13.70" fill="#e07200" fill-opacity="0.7"/>
<rect x="723.84" y="293.25" width="2.70" height="1.75" fill="#fa7f00"/>
<rect x="728" y="287.25" width="1" height="11.25" fill="#e2e2e2" fill-opacity="0.7"/>
<rect x="727.47" y="291.60" width="2.70" height="3.40" fill="#ffffff"/>
<rect x="732" y="286.00" width="1" height="14.75" fill="#e2e2e2" fill-opacity="0.7"/>
<rect x="731.10" y="288.75" width="2.70" height="3.25" fill="#ffffff"/>
<rect x="736" y="268.25" width="1" height="24.25" fill="#e2e2e2" fill-opacity="0.7"/>
<rect x="734.73" y="276.60" width="2.70" height="12.50" fill="#ffffff"/>
<rect x="739" y="274.10" width="1" height="11.65" fill="#e07200" fill-opacity="0.7"/>
<rect x="738.36" y="275.00" width="2.70" height="10.00" fill="#fa7f00"/>
<rect x="743" y="283.75" width="1" height="6.25" fill="#e07200" fill-opacity="0.7"/>
<rect x="741.99" y="284.50" width="2.70" height="4.60" fill="#fa7f00"/>
</g>
<path d="M524.6 151.2 H570.5 A3.4 3.4 0 0 0 573.9 147.8 V138.4 A3.4 3.4 0 0 0 570.5 135.0 H523.7 A3.4 3.4 0 0 0 520.3 138.4 V146.5 Z" fill="#000"/>
<path d="M524.6 151.2 H570.5 A3.4 3.4 0 0 0 573.9 147.8 V138.4 A3.4 3.4 0 0 0 570.5 135.0 H523.7 A3.4 3.4 0 0 0 520.3 138.4 V146.5 L513.2 163.6 Z" fill="none" stroke="#1590a0" stroke-width="0.9" stroke-linejoin="miter"/>
<text x="547.0" y="144.8" font-size="6.9" fill="#f4f4f4" stroke="#f4f4f4" stroke-width="0.22" text-anchor="middle" textLength="42.6" lengthAdjust="spacingAndGlyphs">Resistance level</text>
<path d="M794.5 261.9 H813.5 A3.4 3.4 0 0 0 816.9 258.5 V248.5 A3.4 3.4 0 0 0 813.5 245.1 H766.7 A3.4 3.4 0 0 0 763.3 248.5 V258.5 A3.4 3.4 0 0 0 766.7 261.9 H786.4 Z" fill="#000"/>
<path d="M794.5 261.9 H813.5 A3.4 3.4 0 0 0 816.9 258.5 V248.5 A3.4 3.4 0 0 0 813.5 245.1 H766.7 A3.4 3.4 0 0 0 763.3 248.5 V258.5 A3.4 3.4 0 0 0 766.7 261.9 H786.4 L773.7 286.2 Z" fill="none" stroke="#1590a0" stroke-width="0.9" stroke-linejoin="miter"/>
<text x="790.0" y="255.2" font-size="6.9" fill="#f4f4f4" stroke="#f4f4f4" stroke-width="0.22" text-anchor="middle" textLength="42.6" lengthAdjust="spacingAndGlyphs">Resistance level</text>
<text x="8.8" y="23" font-size="6.4" fill="#e0e0e0" stroke="#e0e0e0" stroke-width="0.15" textLength="93.7" lengthAdjust="spacingAndGlyphs">Bitcoin / U.S. Dollar · 1D · Binance</text>
<text x="106.4" y="23" font-size="6.4" fill="#e0e0e0" stroke="#e0e0e0" stroke-width="0.15" textLength="7.4" lengthAdjust="spacingAndGlyphs">Vol</text>
<text x="113.9" y="23" font-size="6.4" fill="#f08400" stroke="#f08400" stroke-width="0.15" textLength="12.4" lengthAdjust="spacingAndGlyphs">0.26</text>
<rect x="980" y="14" width="1.1" height="469" fill="#935200"/>
<rect x="5" y="468.7" width="1014" height="1.1" fill="#935200"/>
<rect x="982.3" y="15.4" width="34.5" height="13.6" rx="1.6" fill="#0d0d0d" stroke="#2b2b2b" stroke-width="0.7"/>
<text x="986.2" y="24.3" font-size="5.8" fill="#d4d4d4" stroke="#d4d4d4" stroke-width="0.15" textLength="11" lengthAdjust="spacingAndGlyphs">USD</text>
<text x="984.8" y="49.8" font-size="5.85" fill="#d6d6d6" stroke="#d6d6d6" stroke-width="0.18">124,000.00</text>
<text x="984.8" y="69.8" font-size="5.85" fill="#d6d6d6" stroke="#d6d6d6" stroke-width="0.18">119,000.00</text>
<text x="984.8" y="90.2" font-size="5.85" fill="#d6d6d6" stroke="#d6d6d6" stroke-width="0.18">114,000.00</text>
<text x="984.8" y="111.8" font-size="5.85" fill="#d6d6d6" stroke="#d6d6d6" stroke-width="0.18">109,000.00</text>
<text x="984.8" y="129.8" font-size="5.85" fill="#d6d6d6" stroke="#d6d6d6" stroke-width="0.18">105,000.00</text>
<text x="984.8" y="148.2" font-size="5.85" fill="#d6d6d6" stroke="#d6d6d6" stroke-width="0.18">101,000.00</text>
<text x="984.8" y="167.8" font-size="5.85" fill="#d6d6d6" stroke="#d6d6d6" stroke-width="0.18">97,000.00</text>
<text x="984.8" y="188.2" font-size="5.85" fill="#d6d6d6" stroke="#d6d6d6" stroke-width="0.18">93,000.00</text>
<text x="984.8" y="209.2" font-size="5.85" fill="#d6d6d6" stroke="#d6d6d6" stroke-width="0.18">89,000.00</text>
<text x="984.8" y="231.2" font-size="5.85" fill="#d6d6d6" stroke="#d6d6d6" stroke-width="0.18">85,000.00</text>
<text x="984.8" y="254.8" font-size="5.85" fill="#d6d6d6" stroke="#d6d6d6" stroke-width="0.18">81,000.00</text>
<text x="984.8" y="272.8" font-size="5.85" fill="#d6d6d6" stroke="#d6d6d6" stroke-width="0.18">78,000.00</text>
<text x="984.8" y="311.3" font-size="5.85" fill="#d6d6d6" stroke="#d6d6d6" stroke-width="0.18">72,000.00</text>
<text x="984.8" y="331.5" font-size="5.85" fill="#d6d6d6" stroke="#d6d6d6" stroke-width="0.18">69,000.00</text>
<text x="984.8" y="353.2" font-size="5.85" fill="#d6d6d6" stroke="#d6d6d6" stroke-width="0.18">66,000.00</text>
<text x="984.8" y="371.5" font-size="5.85" fill="#d6d6d6" stroke="#d6d6d6" stroke-width="0.18">63,500.00</text>
<text x="984.8" y="386.8" font-size="5.85" fill="#d6d6d6" stroke="#d6d6d6" stroke-width="0.18">61,500.00</text>
<text x="984.8" y="402.8" font-size="5.85" fill="#d6d6d6" stroke="#d6d6d6" stroke-width="0.18">59,500.00</text>
<text x="984.8" y="419.2" font-size="5.85" fill="#d6d6d6" stroke="#d6d6d6" stroke-width="0.18">57,500.00</text>
<text x="984.8" y="434.8" font-size="5.85" fill="#d6d6d6" stroke="#d6d6d6" stroke-width="0.18">55,700.00</text>
<text x="984.8" y="450.2" font-size="5.85" fill="#d6d6d6" stroke="#d6d6d6" stroke-width="0.18">53,900.00</text>
<text x="984.8" y="465.8" font-size="5.85" fill="#d6d6d6" stroke="#d6d6d6" stroke-width="0.18">52,200.00</text>
<rect x="955.2" y="284.1" width="25.5" height="8.5" fill="#ff9800"/>
<rect x="980.5" y="284.1" width="33.2" height="22.1" fill="#ff9800"/>
<text x="957.2" y="290.6" font-size="5.8" fill="#3b2500" textLength="20.8" lengthAdjust="spacingAndGlyphs">BTCUSD</text>
<text x="985" y="290" font-size="5.85" fill="#3b2500">75,266.79</text>
<text x="985" y="297.2" font-size="5.85" fill="#4a2f00">-31.44%</text>
<text x="985" y="304.1" font-size="5.85" fill="#7a4d00">15:44:41</text>
<text x="16.9" y="478.2" font-size="6.3" fill="#d6d6d6" stroke="#d6d6d6" stroke-width="0.18" text-anchor="middle">Oct</text>
<text x="129.5" y="478.2" font-size="6.3" fill="#d6d6d6" stroke="#d6d6d6" stroke-width="0.18" text-anchor="middle">Nov</text>
<text x="238.4" y="478.2" font-size="6.3" fill="#d6d6d6" stroke="#d6d6d6" stroke-width="0.18" text-anchor="middle">Dec</text>
<text x="350.9" y="478.2" font-size="6.3" fill="#d6d6d6" stroke="#d6d6d6" stroke-width="0.18" text-anchor="middle">2026</text>
<text x="463.4" y="478.2" font-size="6.3" fill="#d6d6d6" stroke="#d6d6d6" stroke-width="0.18" text-anchor="middle">Feb</text>
<text x="565.1" y="478.2" font-size="6.3" fill="#d6d6d6" stroke="#d6d6d6" stroke-width="0.18" text-anchor="middle">Mar</text>
<text x="677.6" y="478.2" font-size="6.3" fill="#d6d6d6" stroke="#d6d6d6" stroke-width="0.18" text-anchor="middle">Apr</text>
<text x="786.5" y="478.2" font-size="6.3" fill="#d6d6d6" stroke="#d6d6d6" stroke-width="0.18" text-anchor="middle">May</text>
<text x="899.0" y="478.2" font-size="6.3" fill="#d6d6d6" stroke="#d6d6d6" stroke-width="0.18" text-anchor="middle">Jun</text>
<g>
<circle cx="743.4" cy="462.7" r="5" fill="none" stroke="#8e3aa6" stroke-width="0.9"/>
<path d="M745.4 459.3 L740.9 463.3 L743.3 463.3 L741.4 466.4 L746 462.1 L743.6 462.1 Z" fill="#a544c0"/>
<circle cx="746.9" cy="459.3" r="1.6" fill="#000"/><circle cx="746.9" cy="459.3" r="1.25" fill="#f23645"/>
<path d="M738 461.7 L738.8 463.8 L740.9 464.6 L738.8 465.4 L738 467.5 L737.2 465.4 L735.1 464.6 L737.2 463.8 Z" fill="#6a4df5" stroke="#6a4df5" stroke-width="0.5"/>
</g>
<g fill="#e6e6e6">
<path d="M6.2 494.2 H12.3 V501.6 H9.3 V497.3 H6.2 Z"/>
<circle cx="14.4" cy="495.8" r="1.55"/>
<path d="M17.2 494.2 H20.7 L17.6 501.6 H14.1 Z"/>
</g>
<text x="24.4" y="501.5" font-size="10.7" fill="#e6e6e6" stroke="#e6e6e6" stroke-width="0.42" textLength="60.6" lengthAdjust="spacingAndGlyphs">TradingView</text>
</svg>
</body></html>
